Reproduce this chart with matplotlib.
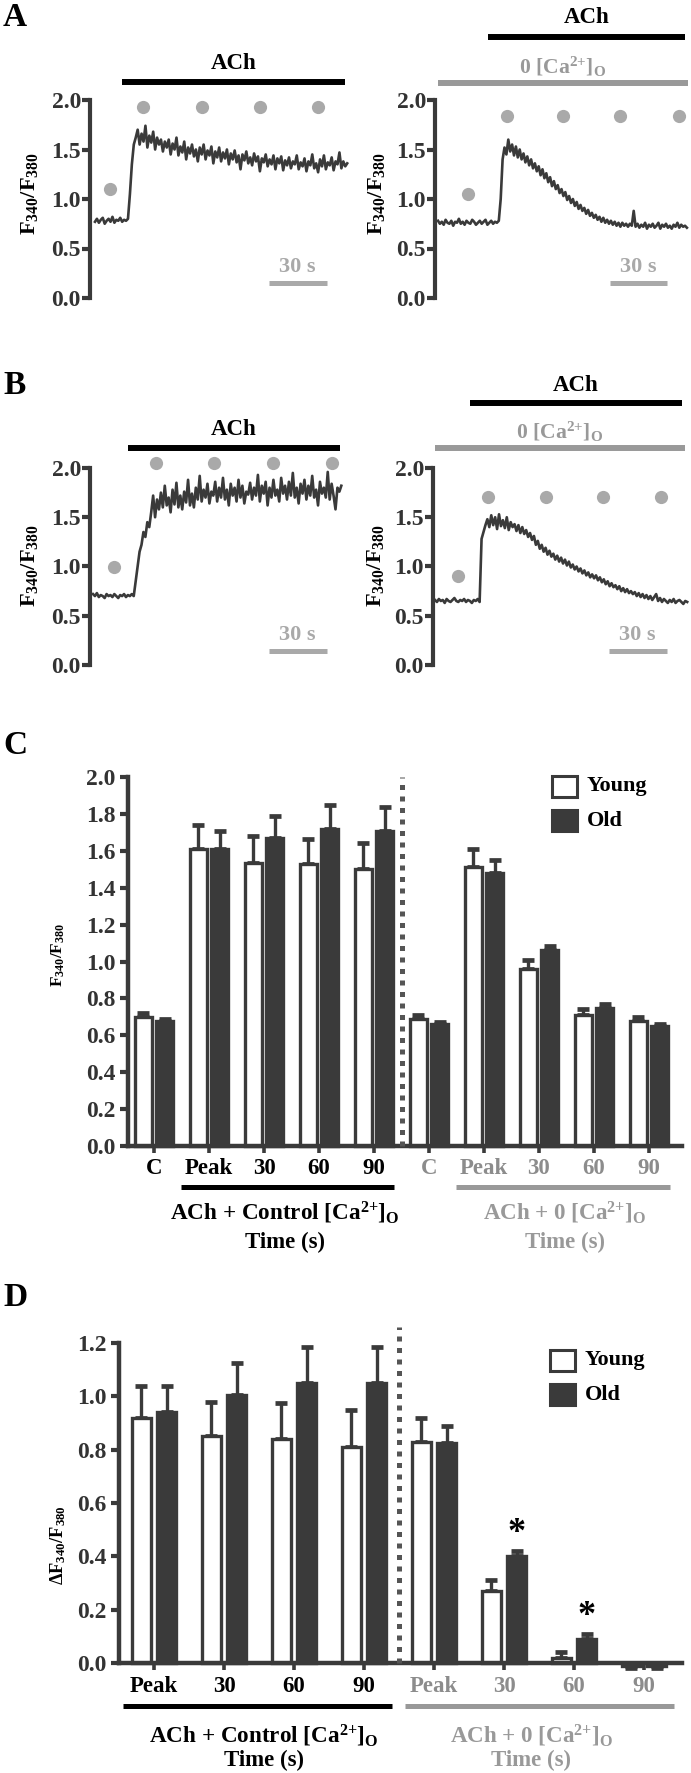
import numpy as np
import matplotlib.pyplot as plt
from matplotlib.patches import Rectangle

plt.rcParams['font.family'] = 'Liberation Serif'
plt.rcParams['font.weight'] = 'bold'
plt.rcParams['mathtext.fontset'] = 'custom'
plt.rcParams['mathtext.rm'] = 'Liberation Serif:bold'
plt.rcParams['mathtext.it'] = 'Liberation Serif:bold:italic'
plt.rcParams['mathtext.bf'] = 'Liberation Serif:bold'
plt.rcParams['mathtext.default'] = 'rm'

DARK = '#3a3a3a'
GREY = '#999999'
LIGHT = '#a9a9a9'

# ---- traces, F340/F380 sampled every second ----
dt = 1.0
a_ctrl = [0.77, 0.80, 0.76, 0.79, 0.81, 0.75, 0.78, 0.80, 0.77, 0.82, 0.76, 0.79, 0.78, 0.81, 0.77, 0.79, 0.78,
          0.80, 1.05, 1.35, 1.55, 1.62,
          1.70, 1.55, 1.66, 1.58, 1.74, 1.52, 1.64, 1.57, 1.68, 1.50, 1.62, 1.55, 1.60, 1.48,
          1.58, 1.52, 1.60, 1.45, 1.56, 1.50, 1.62, 1.44, 1.53, 1.47, 1.58, 1.40, 1.52, 1.46, 1.55, 1.43, 1.50,
          1.38, 1.52, 1.45, 1.55, 1.40, 1.49, 1.44, 1.53,
          1.36, 1.48, 1.42, 1.52, 1.38, 1.47, 1.41, 1.50, 1.35, 1.46, 1.40, 1.49, 1.37, 1.44, 1.30, 1.45, 1.39,
          1.48, 1.36, 1.42, 1.34, 1.46, 1.38, 1.43, 1.28, 1.41, 1.37, 1.45, 1.33, 1.40,
          1.35, 1.44, 1.30, 1.41, 1.36, 1.43, 1.29, 1.39, 1.34, 1.42, 1.31, 1.38, 1.35, 1.44, 1.30, 1.37, 1.33,
          1.41, 1.28, 1.38, 1.34, 1.45, 1.31, 1.36, 1.27, 1.40, 1.33, 1.44, 1.30, 1.37, 1.34, 1.42, 1.29, 1.38,
          1.35, 1.47, 1.31, 1.38, 1.33, 1.36]
a_zero = [0.78, 0.75, 0.77, 0.74, 0.79, 0.76, 0.75, 0.78, 0.73, 0.77, 0.76, 0.80, 0.75, 0.77, 0.74, 0.78, 0.76,
          0.75, 0.79, 0.77, 0.74, 0.76, 0.78, 0.75, 0.77, 0.79, 0.74, 0.76, 0.78, 0.75, 0.77, 0.76, 0.78,
          1.00, 1.40, 1.52, 1.45,
          1.60, 1.48, 1.55, 1.44, 1.53, 1.42, 1.50, 1.40, 1.46, 1.37, 1.43, 1.34, 1.40, 1.31,
          1.36, 1.28, 1.33, 1.24, 1.30, 1.21, 1.26, 1.17, 1.22, 1.13, 1.18, 1.10, 1.14, 1.06, 1.10, 1.03, 1.07,
          0.99, 1.03, 0.96, 1.00, 0.93, 0.97, 0.90, 0.94,
          0.88, 0.91, 0.85, 0.89, 0.83, 0.86, 0.81, 0.84, 0.79, 0.82, 0.77, 0.81, 0.76, 0.79, 0.75, 0.78, 0.74,
          0.77, 0.73, 0.76, 0.72, 0.76, 0.73, 0.75, 0.72,
          0.75, 0.73, 0.88, 0.72, 0.75, 0.71, 0.74, 0.72, 0.76, 0.70, 0.74, 0.72, 0.75, 0.71, 0.73, 0.76, 0.70,
          0.74, 0.72, 0.75, 0.71, 0.73, 0.70, 0.74, 0.72, 0.76, 0.71, 0.74, 0.72, 0.73, 0.71]
b_ctrl = [0.72, 0.70, 0.73, 0.69, 0.71, 0.70, 0.68, 0.72, 0.70, 0.71, 0.69, 0.72, 0.70, 0.68, 0.71, 0.70, 0.72,
          0.69, 0.71, 0.70, 0.72, 0.70,
          0.85, 1.00, 1.15, 1.22, 1.35, 1.30, 1.45, 1.40, 1.55,
          1.72, 1.50, 1.68, 1.58, 1.75, 1.60, 1.82, 1.62, 1.70, 1.55, 1.78, 1.63, 1.85, 1.60, 1.72, 1.58, 1.76,
          1.65, 1.88, 1.62,
          1.74, 1.60, 1.80, 1.68, 1.92, 1.66, 1.78, 1.70, 1.84, 1.64, 1.76, 1.72, 1.86, 1.66, 1.80, 1.70, 1.90,
          1.68, 1.78, 1.62, 1.84, 1.72, 1.80, 1.66, 1.88, 1.70, 1.82, 1.64, 1.76, 1.73,
          1.85, 1.68, 1.80, 1.72, 1.93, 1.66, 1.82, 1.74, 1.86, 1.62, 1.80, 1.70, 1.88, 1.72, 1.78, 1.66, 1.90,
          1.74, 1.82, 1.68, 1.86, 1.72, 1.95, 1.70, 1.80, 1.64, 1.84, 1.74, 1.88, 1.68, 1.82, 1.72, 1.92, 1.70,
          1.78, 1.62, 1.86, 1.74, 1.80, 1.70, 1.96, 1.68, 1.84, 1.72, 1.58, 1.80, 1.76, 1.82]
b_zero = [0.66, 0.64, 0.67, 0.65, 0.66, 0.63, 0.67, 0.65, 0.64, 0.66, 0.68, 0.65, 0.64, 0.66, 0.65, 0.67, 0.64,
          0.66, 0.65, 0.63, 0.66, 0.65, 0.67, 0.64,
          1.28, 1.35, 1.42,
          1.48, 1.40, 1.52, 1.42, 1.50, 1.38, 1.53, 1.41, 1.47, 1.39, 1.50, 1.37, 1.45, 1.40, 1.43, 1.36, 1.42,
          1.34, 1.40,
          1.33, 1.37, 1.30, 1.34, 1.27, 1.31, 1.22, 1.26, 1.18, 1.22, 1.15, 1.19, 1.12, 1.16, 1.10, 1.13, 1.07,
          1.11, 1.05, 1.09, 1.03, 1.07, 1.01, 1.05, 0.99,
          1.02, 0.97, 1.00, 0.95, 0.98, 0.93, 0.96, 0.91, 0.94, 0.89, 0.92, 0.88, 0.91, 0.86, 0.89, 0.84, 0.87,
          0.82, 0.85, 0.80, 0.83, 0.79, 0.81, 0.77, 0.80, 0.75, 0.78, 0.74, 0.77, 0.73,
          0.75, 0.72, 0.74, 0.70, 0.73, 0.69, 0.72, 0.68, 0.71, 0.67, 0.70, 0.66, 0.69, 0.72, 0.65, 0.68, 0.64,
          0.67, 0.65, 0.63, 0.66, 0.64, 0.67, 0.63, 0.65, 0.66, 0.64, 0.62, 0.65, 0.64]

# measurement points (s, ratio) and ACh / 0 Ca periods (s)
a_ctrl_dots_t = [7.7, 24.7, 55.2, 85.1, 115.0]
a_ctrl_dots_v = [1.10, 1.93, 1.93, 1.93, 1.93]
a_zero_dots_t = [15.8, 36.3, 65.8, 95.8, 126.8]
a_zero_dots_v = [1.05, 1.84, 1.84, 1.84, 1.84]
b_ctrl_dots_t = [10.8, 32.5, 62.4, 92.8, 123.2]
b_ctrl_dots_v = [0.99, 2.05, 2.05, 2.05, 2.05]
b_zero_dots_t = [11.9, 27.3, 57.2, 86.6, 116.5]
b_zero_dots_v = [0.90, 1.71, 1.71, 1.71, 1.71]
a_ctrl_ach = [14, 129]
a_zero_ach = [26.3, 130]
a_zero_ca = [0, 131.6]
b_ctrl_ach = [18, 127.3]
b_zero_ach = [18, 127.3]
b_zero_ca = [0, 128.9]

# ---- summary bars ----
c_labels = ['C', 'Peak', '30', '60', '90', 'C', 'Peak', '30', '60', '90']
c_young = [0.70, 1.61, 1.535, 1.53, 1.50, 0.69, 1.51, 0.96, 0.71, 0.68]
c_young_sem = [0.02, 0.13, 0.145, 0.135, 0.14, 0.02, 0.10, 0.05, 0.03, 0.02]
c_old = [0.68, 1.61, 1.67, 1.72, 1.71, 0.66, 1.48, 1.06, 0.75, 0.65]
c_old_sem = [0.01, 0.10, 0.12, 0.13, 0.13, 0.01, 0.07, 0.025, 0.02, 0.01]

d_labels = ['Peak', '30', '60', '90', 'Peak', '30', '60', '90']
d_young = [0.92, 0.85, 0.84, 0.81, 0.83, 0.27, 0.02, -0.01]
d_young_sem = [0.12, 0.13, 0.135, 0.14, 0.09, 0.04, 0.02, 0.01]
d_old = [0.94, 1.005, 1.05, 1.05, 0.825, 0.40, 0.09, -0.01]
d_old_sem = [0.10, 0.12, 0.135, 0.135, 0.065, 0.02, 0.02, 0.01]
d_sig = [5, 6]

W, H = 691, 1773
fig = plt.figure(figsize=(W / 100, H / 100), dpi=100)
renderer = fig.canvas.get_renderer()

TICK = 17


def px_rect(left, top, right, bottom):
    return [left / W, 1 - bottom / H, (right - left) / W, (bottom - top) / H]


def ftext(x, y, s, **kw):
    return fig.text(x / W, 1 - y / H, s, **kw)


def fit(t, target, vertical=False):
    # scale a text so its printed length matches the reference
    bb = t.get_window_extent(renderer=renderer)
    cur = bb.height if vertical else bb.width
    t.set_fontsize(t.get_fontsize() * target / cur)
    return t.get_fontsize()


def trace_panel(box, t0_px, px_per_s, vals, dots_t, dots_v, scale_y):
    ax = fig.add_axes(px_rect(*box))
    t = np.arange(len(vals)) * dt
    ax.plot(t, vals, color=DARK, lw=1.9)
    ax.plot(dots_t, dots_v, 'o', color=LIGHT, ms=9.5, mec='none', clip_on=False)
    ax.set_xlim((box[0] - t0_px) / px_per_s, (box[2] - t0_px) / px_per_s)
    ax.set_ylim(0, 2)
    ax.set_yticks([0, 0.5, 1.0, 1.5, 2.0])
    ax.set_yticklabels(['%.1f' % v for v in ax.get_yticks()])
    ax.set_xticks([])
    for s in ['top', 'right', 'bottom']:
        ax.spines[s].set_visible(False)
    ax.spines['left'].set_linewidth(3)
    ax.spines['left'].set_color(DARK)
    ax.tick_params(axis='y', length=6, width=3, color=DARK, labelsize=TICK, pad=0.5, labelcolor='#333333')
    ax.patch.set_alpha(0)
    # 30 s scale bar
    s0 = ax.get_xlim()[1] - 12 - 30
    ax.plot([s0, s0 + 30], [scale_y, scale_y], color=LIGHT, lw=3.6, solid_capstyle='butt', clip_on=False)
    ax.text(s0 + 15, scale_y + 0.16, '30 s', color=LIGHT, ha='center', va='center', fontsize=16)
    return ax


def period(ax, span, y, ty, label, color, tx=None):
    ax.plot(span, [y, y], color=color, lw=4.3, solid_capstyle='butt', clip_on=False)
    if tx is None:
        tx = sum(span) / 2
    return ax.text(tx, ty, label, color=color, ha='center', va='center', fontsize=16.5, clip_on=False)


ca0 = '0 [Ca$^{2{+}}$]$_\\mathrm{O}$'

ax = trace_panel((90, 100, 350, 298), 95, 1.94, a_ctrl, a_ctrl_dots_t, a_ctrl_dots_v, 0.15)
period(ax, a_ctrl_ach, 2.18, 2.37, 'ACh', 'black')
ax = trace_panel((435, 100, 690, 298), 438, 1.9, a_zero, a_zero_dots_t, a_zero_dots_v, 0.15)
period(ax, a_zero_ach, 2.64, 2.83, 'ACh', 'black', tx=78.4)
fit(period(ax, a_zero_ca, 2.17, 2.33, ca0, GREY, tx=65.8), 87)
ax = trace_panel((90, 468, 350, 665), 93, 1.94, b_ctrl, b_ctrl_dots_t, b_ctrl_dots_v, 0.14)
period(ax, b_ctrl_ach, 2.20, 2.39, 'ACh', 'black')
ax = trace_panel((433, 468, 690, 665), 435, 1.94, b_zero, b_zero_dots_t, b_zero_dots_v, 0.14)
period(ax, b_zero_ach, 2.66, 2.84, 'ACh', 'black')
fit(period(ax, b_zero_ca, 2.20, 2.37, ca0, GREY, tx=64.4), 87)

ratio = 'F$_{340}$/F$_{380}$'
for x, y in [(30, 194), (377, 194), (30, 566), (375, 566)]:
    fit(ftext(x, y, ratio, rotation=90, ha='center', va='center', fontsize=16), 83, vertical=True)


def legend_box(x, y):
    for k, (fc, lab) in enumerate([('white', 'Young'), (DARK, 'Old')]):
        yy = y + k * 34
        fig.add_artist(Rectangle((x / W, 1 - (yy + 21) / H), 25 / W, 21 / H, transform=fig.transFigure,
                                 facecolor=fc, edgecolor=DARK, lw=2.2))
        ftext(x + 35, yy + 10.5, lab, ha='left', va='center', fontsize=16)


def bar_panel(box, x0_px, step_px, labels, young, young_sem, old, old_sem, n_ctrl, width, offset,
              ymax, sep_top):
    ax = fig.add_axes(px_rect(*box))
    x = np.arange(len(young))
    for xs, m, s, fc in [(x - offset, young, young_sem, 'white'), (x + offset, old, old_sem, DARK)]:
        m = np.array(m)
        s = np.array(s)
        yerr = [np.where(m < 0, s, 0), np.where(m >= 0, s, 0)]
        ax.errorbar(xs, m, yerr=yerr, fmt='none', ecolor=DARK, elinewidth=2.4, capsize=4,
                    capthick=3.4, zorder=1, clip_on=False)
        ax.bar(xs, m, width=width, color=fc, edgecolor=DARK, linewidth=2.4, zorder=2, clip_on=False)
    sep = n_ctrl - 0.5
    ax.plot([sep, sep], [0, sep_top], color='#555555', lw=3.6, linestyle=(0, (1, 1.3)),
            dash_capstyle='butt', clip_on=False, zorder=3)
    ax.set_xlim((box[0] - x0_px) / step_px, (box[2] - x0_px) / step_px)
    ax.set_ylim(0, ymax)
    yt = np.arange(0, ymax + 0.01, 0.2)
    ax.set_yticks(yt)
    ax.set_yticklabels(['%.1f' % v for v in yt])
    ax.set_xticks(x)
    ax.set_xticklabels(labels)
    for i, lab in enumerate(ax.get_xticklabels()):
        lab.set_color('black' if i < n_ctrl else '#8c8c8c')
    for s in ['top', 'right']:
        ax.spines[s].set_visible(False)
    for s in ['left', 'bottom']:
        ax.spines[s].set_linewidth(3.2)
        ax.spines[s].set_color(DARK)
    ax.tick_params(axis='y', length=6, width=3, color=DARK, labelsize=TICK, pad=3, labelcolor='#333333')
    ax.tick_params(axis='x', length=5, width=2.6, color=DARK, labelsize=16.5, pad=4)
    ax.patch.set_alpha(0)
    return ax


ctrl_txt = 'ACh + Control [Ca$^{2{+}}$]$_\\mathrm{O}$'
zero_txt = 'ACh + 0 [Ca$^{2{+}}$]$_\\mathrm{O}$'
GT = 16.5


def group_text(ax, x, y1, y2, label, color, target):
    fit(ax.text(x, y1, label, ha='center', va='center', fontsize=GT, color=color, clip_on=False), target)
    ax.text(x, y2, 'Time (s)', ha='center', va='center', fontsize=GT, color=color, clip_on=False)


# C
ax = bar_panel((128, 777, 682, 1146), 154, 55, c_labels, c_young, c_young_sem, c_old, c_old_sem,
               5, 0.31, 0.195, 2.0, 2.0)
ax.plot([0.49, 4.36], [-0.222, -0.222], color='black', lw=3.6, solid_capstyle='butt', clip_on=False)
ax.plot([5.49, 9.38], [-0.222, -0.222], color=GREY, lw=3.6, solid_capstyle='butt', clip_on=False)
group_text(ax, 2.38, -0.36, -0.525, ctrl_txt, 'black', 229)
group_text(ax, 7.47, -0.36, -0.525, zero_txt, GREY, 163)
fit(ftext(58, 955, ratio, rotation=90, ha='center', va='center', fontsize=13), 64, vertical=True)
legend_box(552, 776)

# D
ax = bar_panel((119, 1343, 682, 1663), 154, 70, d_labels, d_young, d_young_sem, d_old, d_old_sem,
               4, 0.27, 0.18, 1.2, 1.26)
for i in d_sig:
    ax.text(i + 0.18, d_old[i] + d_old_sem[i] + 0.065, '*', ha='center', va='center', fontsize=26)
ax.plot([-0.44, 3.4], [-0.161, -0.161], color='black', lw=3.6, solid_capstyle='butt', clip_on=False)
ax.plot([3.59, 7.43], [-0.161, -0.161], color=GREY, lw=3.6, solid_capstyle='butt', clip_on=False)
group_text(ax, 1.57, -0.272, -0.366, ctrl_txt, 'black', 229)
group_text(ax, 5.39, -0.272, -0.366, zero_txt, GREY, 163)
fit(ftext(58, 1545, '\u0394' + ratio, rotation=90, ha='center', va='center', fontsize=13.5), 80,
    vertical=True)
legend_box(550, 1350)

for lab, y in [('A', 17), ('B', 385), ('C', 745), ('D', 1298)]:
    ftext(3, y, lab, ha='left', va='center', fontsize=24)

fig.savefig('out.png', dpi=100)
